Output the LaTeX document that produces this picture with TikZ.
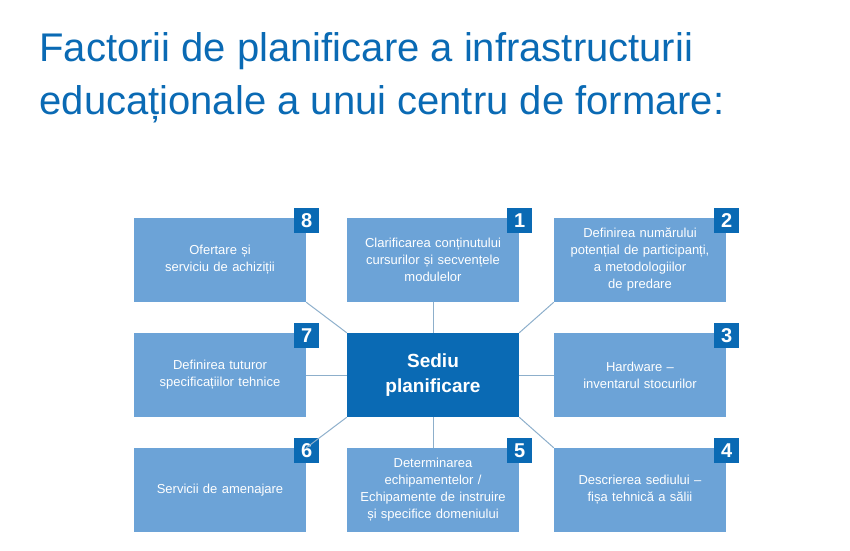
\documentclass[tikz,border=0pt]{standalone}
\usepackage{fontspec}
\setmainfont{Liberation Sans}
\definecolor{lb}{HTML}{6CA3D7}
\definecolor{db}{HTML}{0A6AB4}
\definecolor{ln}{HTML}{8DAFCB}
\begin{document}
\begin{tikzpicture}[x=1pt,y=-1pt,
 box/.style={fill=lb,minimum width=172pt,minimum height=84pt,text width=165pt,align=center,text=white,font=\fontsize{13}{17}\selectfont,inner sep=0pt},
 badge/.style={fill=db,minimum size=25pt,inner sep=0pt,text=white,font=\fontsize{20}{20}\selectfont\bfseries},
 con/.style={draw=ln,line width=1pt}]
\useasboundingbox (0,0) rectangle (850,550);
\node[anchor=west,text=db,align=left,font=\fontsize{40}{53}\selectfont] (title) at (36,78) {Factorii de planificare a infrastructurii\\educaționale a unui centru de formare:};
\node[box] (b8) at (220,260) {Ofertare și\\serviciu de achiziții};
\node[box] (b1) at (433,260) {Clarificarea conținutului\\cursurilor și secvențele\\modulelor};
\node[box] (b2) at (640,260) {Definirea numărului\\potențial de participanți,\\a metodologiilor\\de predare};
\node[box] (b7) at (220,375) {Definirea tuturor\\specificațiilor tehnice};
\node[box,fill=db,font=\fontsize{19}{25}\selectfont\bfseries] (c) at (433,375) {Sediu\\planificare};
\node[box] (b3) at (640,375) {Hardware –\\inventarul stocurilor};
\node[box] (b6) at (220,490) {Servicii de amenajare};
\node[box] (b5) at (433,490) {Determinarea\\echipamentelor /\\Echipamente de instruire\\și specifice domeniului};
\node[box] (b4) at (640,490) {Descrierea sediului –\\fișa tehnică a sălii};
\foreach \n in {1,...,8}{\node[badge] (n\n) at ([xshift=0.5pt,yshift=-2.5pt]b\n.north east) {\n};}
\draw[con] (c.north) -- (b1.south);
\draw[con] (c.south) -- (b5.north);
\draw[con] (c.west) -- (b7.east);
\draw[con] (c.east) -- (b3.west);
\draw[con] (c.north west) -- (b8.south east);
\draw[con] (c.north east) -- (b2.south west);
\draw[con] (c.south west) -- (b6.north east);
\draw[con] (c.south east) -- (b4.north west);
\end{tikzpicture}
\end{document}
